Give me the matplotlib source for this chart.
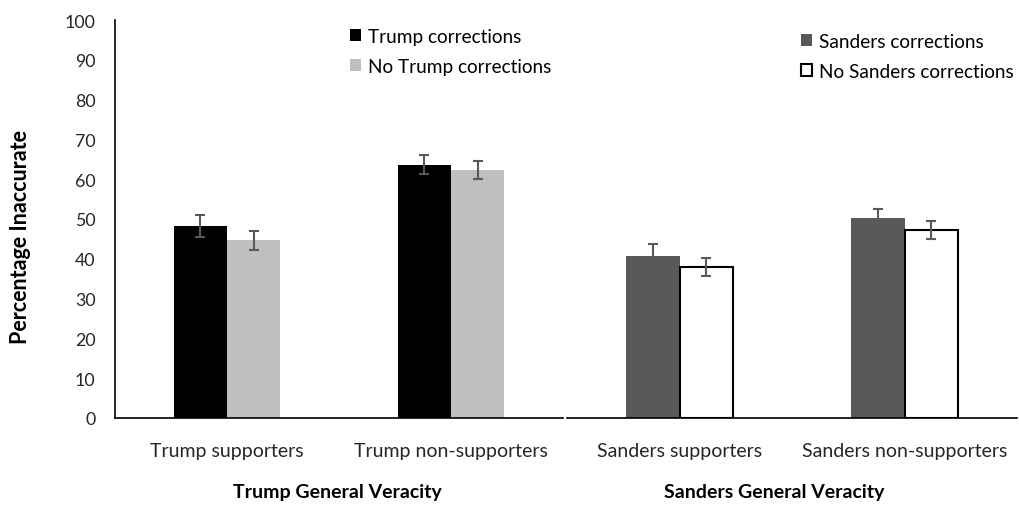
import matplotlib
matplotlib.use('Agg')
import matplotlib.pyplot as plt
import numpy as np
from matplotlib.patches import Patch

plt.rcParams['font.family'] = ['Lato', 'DejaVu Sans']

# Mean percentage rated inaccurate, with error bar half-widths
trump_groups = ['Trump supporters', 'Trump non-supporters']
trump_corr = [48.2, 63.6]
trump_corr_err = [2.8, 2.4]
trump_nocorr = [44.6, 62.3]
trump_nocorr_err = [2.4, 2.3]

sanders_groups = ['Sanders supporters', 'Sanders non-supporters']
sanders_corr = [40.6, 50.2]
sanders_corr_err = [3.0, 2.3]
sanders_nocorr = [37.9, 47.3]
sanders_nocorr_err = [2.3, 2.3]

W, H = 1019, 506
fig = plt.figure(figsize=(W / 100, H / 100), dpi=100)
ax1 = fig.add_axes([115 / W, 1 - 419 / H, 448 / W, 398 / H])
ax2 = fig.add_axes([567 / W, 1 - 419 / H, 450 / W, 398 / H])

bw = 0.237
err_kw = dict(ecolor='#595959', elinewidth=1.5, capsize=3.6, capthick=1.5)
txt_col = '#262626'


def panel(ax, groups, a, a_err, b, b_err, col_a, col_b, edge_b):
    x = np.arange(len(groups))
    ax.bar(x - bw / 2, a, bw, color=col_a, yerr=a_err, error_kw=err_kw, zorder=2)
    ax.bar(x + bw / 2, b, bw, color=col_b, edgecolor=edge_b,
           linewidth=1.5 if edge_b != 'none' else 0,
           yerr=b_err, error_kw=err_kw, zorder=2)
    ax.set_xlim(-0.5, len(groups) - 0.5)
    ax.set_ylim(0, 100)
    ax.set_xticks(x)
    ax.set_xticklabels(groups, fontsize=14, color=txt_col)
    ax.tick_params(axis='x', length=0, pad=17)
    for s in ['top', 'right']:
        ax.spines[s].set_visible(False)
    ax.spines['bottom'].set_linewidth(1.2)
    ax.spines['left'].set_linewidth(1.2)


panel(ax1, trump_groups, trump_corr, trump_corr_err, trump_nocorr, trump_nocorr_err,
      '#000000', '#bfbfbf', 'none')
panel(ax2, sanders_groups, sanders_corr, sanders_corr_err, sanders_nocorr, sanders_nocorr_err,
      '#595959', '#ffffff', '#000000')

ax1.set_yticks(np.arange(0, 101, 10))
ax1.tick_params(axis='y', length=0, pad=14, labelsize=12.8, labelcolor=txt_col)

ax2.spines['left'].set_visible(False)
ax2.set_yticks([])

fig.text(21 / W, 1 - 237 / H, 'Percentage Inaccurate', rotation=90, fontsize=15.5,
         fontweight='bold', ha='center', va='center')
fig.text(337 / W, 1 - 493 / H, 'Trump General Veracity', fontsize=14,
         fontweight='bold', ha='center', va='center')
fig.text(774 / W, 1 - 493 / H, 'Sanders General Veracity', fontsize=14,
         fontweight='bold', ha='center', va='center')

leg_kw = dict(frameon=False, fontsize=13.7, handlelength=0.58, handleheight=0.58,
              handletextpad=0.37, labelspacing=0.66, borderpad=0, borderaxespad=0)

trump_handles = [Patch(facecolor='#000000', label='Trump corrections'),
                 Patch(facecolor='#bfbfbf', label='No Trump corrections')]
fig.legend(handles=trump_handles, loc='upper left',
           bbox_to_anchor=(350 / W, 1 - 29 / H), **leg_kw)

sanders_handles = [Patch(facecolor='#595959', label='Sanders corrections'),
                   Patch(facecolor='#ffffff', edgecolor='#000000', linewidth=1.5,
                         label='No Sanders corrections')]
fig.legend(handles=sanders_handles, loc='upper left',
           bbox_to_anchor=(801 / W, 1 - 34 / H), **leg_kw)

plt.savefig('out.png', dpi=100)
plt.close()
